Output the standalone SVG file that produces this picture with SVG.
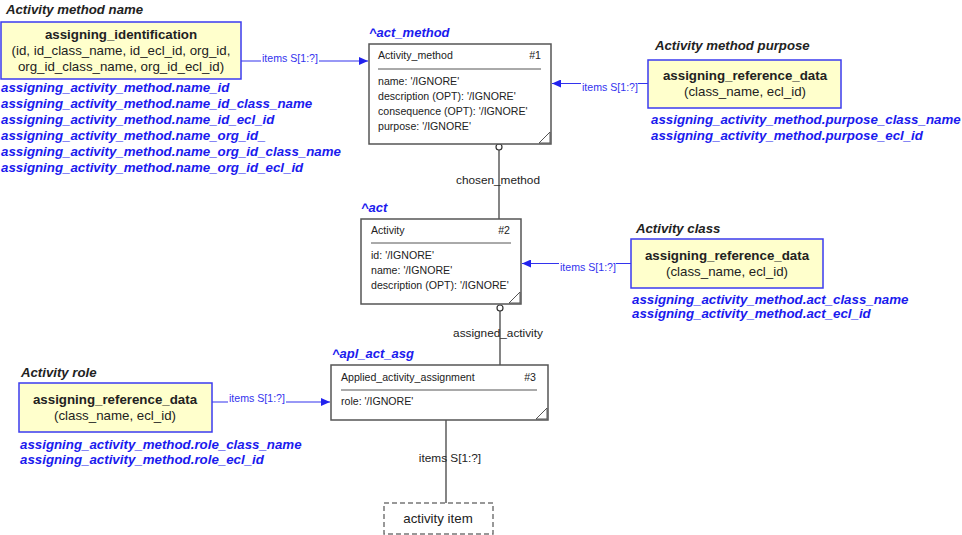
<svg xmlns="http://www.w3.org/2000/svg" width="962" height="535" viewBox="0 0 962 535">
<style>
text{font-family:"Liberation Sans",Arial,sans-serif}
.ttl{font-size:13.2px;font-weight:bold;font-style:italic;fill:#222}
.map{font-size:13.3px;font-weight:bold;font-style:italic;fill:#1a1aee}
.inst{font-size:13px;font-weight:bold;font-style:italic;fill:#1a1aee}
.sel{fill:#ffffcc;stroke:#3b3bf0;stroke-width:1.5}
.selt{font-size:13.3px;fill:#222;text-anchor:middle}
.selb{font-size:13.3px;font-weight:bold;fill:#222;text-anchor:middle}
.ent{fill:#fff;stroke:#555;stroke-width:1.5}
.et{font-size:10.6px;fill:#222}
.sep{stroke:#555;stroke-width:1}
.blue{stroke:#3333ee;stroke-width:1.2;fill:none}
.blk{stroke:#333;stroke-width:1.2;fill:none}
.lbl{font-size:10.6px;fill:#3333ee}
.lblk{font-size:11.8px;fill:#222}
</style>
<defs>
<marker id="arr" markerWidth="10" markerHeight="8" refX="9" refY="4" orient="auto" markerUnits="userSpaceOnUse">
<path d="M0,0 L9,4 L0,8 z" fill="#2222ee"/>
</marker>
</defs>

<g id="connectors">
<line class="blue" x1="241" y1="61" x2="368" y2="61" marker-end="url(#arr)"/>
<rect x="261" y="52" width="58" height="12" fill="#fff"/>
<text class="lbl" x="262" y="61.5">items S[1:?]</text>

<line class="blue" x1="648" y1="83.5" x2="552" y2="83.5" marker-end="url(#arr)"/>
<rect x="581" y="82" width="57" height="10" fill="#fff"/>
<text class="lbl" x="582" y="91">items S[1:?]</text>

<line class="blue" x1="631" y1="263.5" x2="522" y2="263.5" marker-end="url(#arr)"/>
<rect x="559" y="262" width="57" height="10" fill="#fff"/>
<text class="lbl" x="560" y="270.5">items S[1:?]</text>

<line class="blue" x1="212" y1="402" x2="330" y2="402" marker-end="url(#arr)"/>
<rect x="228" y="393" width="58" height="10" fill="#fff"/>
<text class="lbl" x="229" y="401.5">items S[1:?]</text>

<line class="blk" x1="499" y1="150" x2="499" y2="219"/>
<circle cx="499" cy="147" r="3" fill="#fff" stroke="#333" stroke-width="1.2"/>
<text class="lblk" x="498" y="184" text-anchor="middle">chosen_method</text>

<line class="blk" x1="500" y1="311" x2="500" y2="365"/>
<circle cx="500" cy="308" r="3" fill="#fff" stroke="#333" stroke-width="1.2"/>
<text class="lblk" x="498" y="337" text-anchor="middle">assigned_activity</text>

<line class="blk" x1="446" y1="420" x2="446" y2="503"/>
<text class="lblk" x="450" y="462" text-anchor="middle">items S[1:?]</text>
</g>

<g id="activity_method_name">
<text class="ttl" x="6" y="14">Activity method name</text>
<rect class="sel" x="1" y="22" width="240" height="57"/>
<text class="selb" x="121" y="39">assigning_identification</text>
<text class="selt" x="121" y="55">(id, id_class_name, id_ecl_id, org_id,</text>
<text class="selt" x="121" y="71">org_id_class_name, org_id_ecl_id)</text>
<text class="map" x="1" y="92">assigning_activity_method.name_id</text>
<text class="map" x="1" y="108">assigning_activity_method.name_id_class_name</text>
<text class="map" x="1" y="124">assigning_activity_method.name_id_ecl_id</text>
<text class="map" x="1" y="140">assigning_activity_method.name_org_id_</text>
<text class="map" x="1" y="156">assigning_activity_method.name_org_id_class_name</text>
<text class="map" x="1" y="172">assigning_activity_method.name_org_id_ecl_id</text>
</g>

<g id="act_method">
<text class="inst" x="369" y="37">^act_method</text>
<rect class="ent" x="369" y="44" width="182" height="100"/>
<text class="et" x="378" y="59">Activity_method</text>
<text class="et" x="541" y="59" text-anchor="end">#1</text>
<line class="sep" x1="378" y1="69" x2="541" y2="69"/>
<text class="et" x="378" y="85">name: '/IGNORE'</text>
<text class="et" x="378" y="100">description (OPT): '/IGNORE'</text>
<text class="et" x="378" y="115">consequence (OPT): '/IGNORE'</text>
<text class="et" x="378" y="130">purpose: '/IGNORE'</text>
<path d="M539,143 L550,132 L550,143 z" fill="none" stroke="#555" stroke-width="1"/>
</g>

<g id="activity_method_purpose">
<text class="ttl" x="655" y="50">Activity method purpose</text>
<rect class="sel" x="648" y="60" width="193" height="48"/>
<text class="selb" x="745" y="80">assigning_reference_data</text>
<text class="selt" x="745" y="96">(class_name, ecl_id)</text>
<text class="map" x="651" y="124">assigning_activity_method.purpose_class_name</text>
<text class="map" x="651" y="140">assigning_activity_method.purpose_ecl_id</text>
</g>

<g id="act">
<text class="inst" x="361" y="212">^act</text>
<rect class="ent" x="361" y="219" width="160" height="85"/>
<text class="et" x="371" y="234">Activity</text>
<text class="et" x="510" y="234" text-anchor="end">#2</text>
<line class="sep" x1="371" y1="243" x2="511" y2="243"/>
<text class="et" x="371" y="259">id: '/IGNORE'</text>
<text class="et" x="371" y="274">name: '/IGNORE'</text>
<text class="et" x="371" y="289">description (OPT): '/IGNORE'</text>
<path d="M509,303 L520,292 L520,303 z" fill="none" stroke="#555" stroke-width="1"/>
</g>

<g id="activity_class">
<text class="ttl" x="636" y="233">Activity class</text>
<rect class="sel" x="631" y="239" width="192" height="49"/>
<text class="selb" x="727" y="260">assigning_reference_data</text>
<text class="selt" x="727" y="276">(class_name, ecl_id)</text>
<text class="map" x="632" y="304">assigning_activity_method.act_class_name</text>
<text class="map" x="632" y="318">assigning_activity_method.act_ecl_id</text>
</g>

<g id="apl_act_asg">
<text class="inst" x="332" y="358">^apl_act_asg</text>
<rect class="ent" x="331" y="365" width="217" height="55"/>
<text class="et" x="341" y="381">Applied_activity_assignment</text>
<text class="et" x="536" y="381" text-anchor="end">#3</text>
<line class="sep" x1="341" y1="390" x2="537" y2="390"/>
<text class="et" x="341" y="405">role: '/IGNORE'</text>
<path d="M536,419 L547,408 L547,419 z" fill="none" stroke="#555" stroke-width="1"/>
</g>

<g id="activity_role">
<text class="ttl" x="21" y="377">Activity role</text>
<rect class="sel" x="19" y="383" width="193" height="49"/>
<text class="selb" x="115" y="404">assigning_reference_data</text>
<text class="selt" x="115" y="420">(class_name, ecl_id)</text>
<text class="map" x="20" y="449">assigning_activity_method.role_class_name</text>
<text class="map" x="20" y="464">assigning_activity_method.role_ecl_id</text>
</g>

<g id="activity_item">
<rect x="384" y="503" width="109" height="31" fill="#fff" stroke="#777" stroke-width="1.5" stroke-dasharray="5,3"/>
<text class="selt" x="438" y="523">activity item</text>
</g>
</svg>
